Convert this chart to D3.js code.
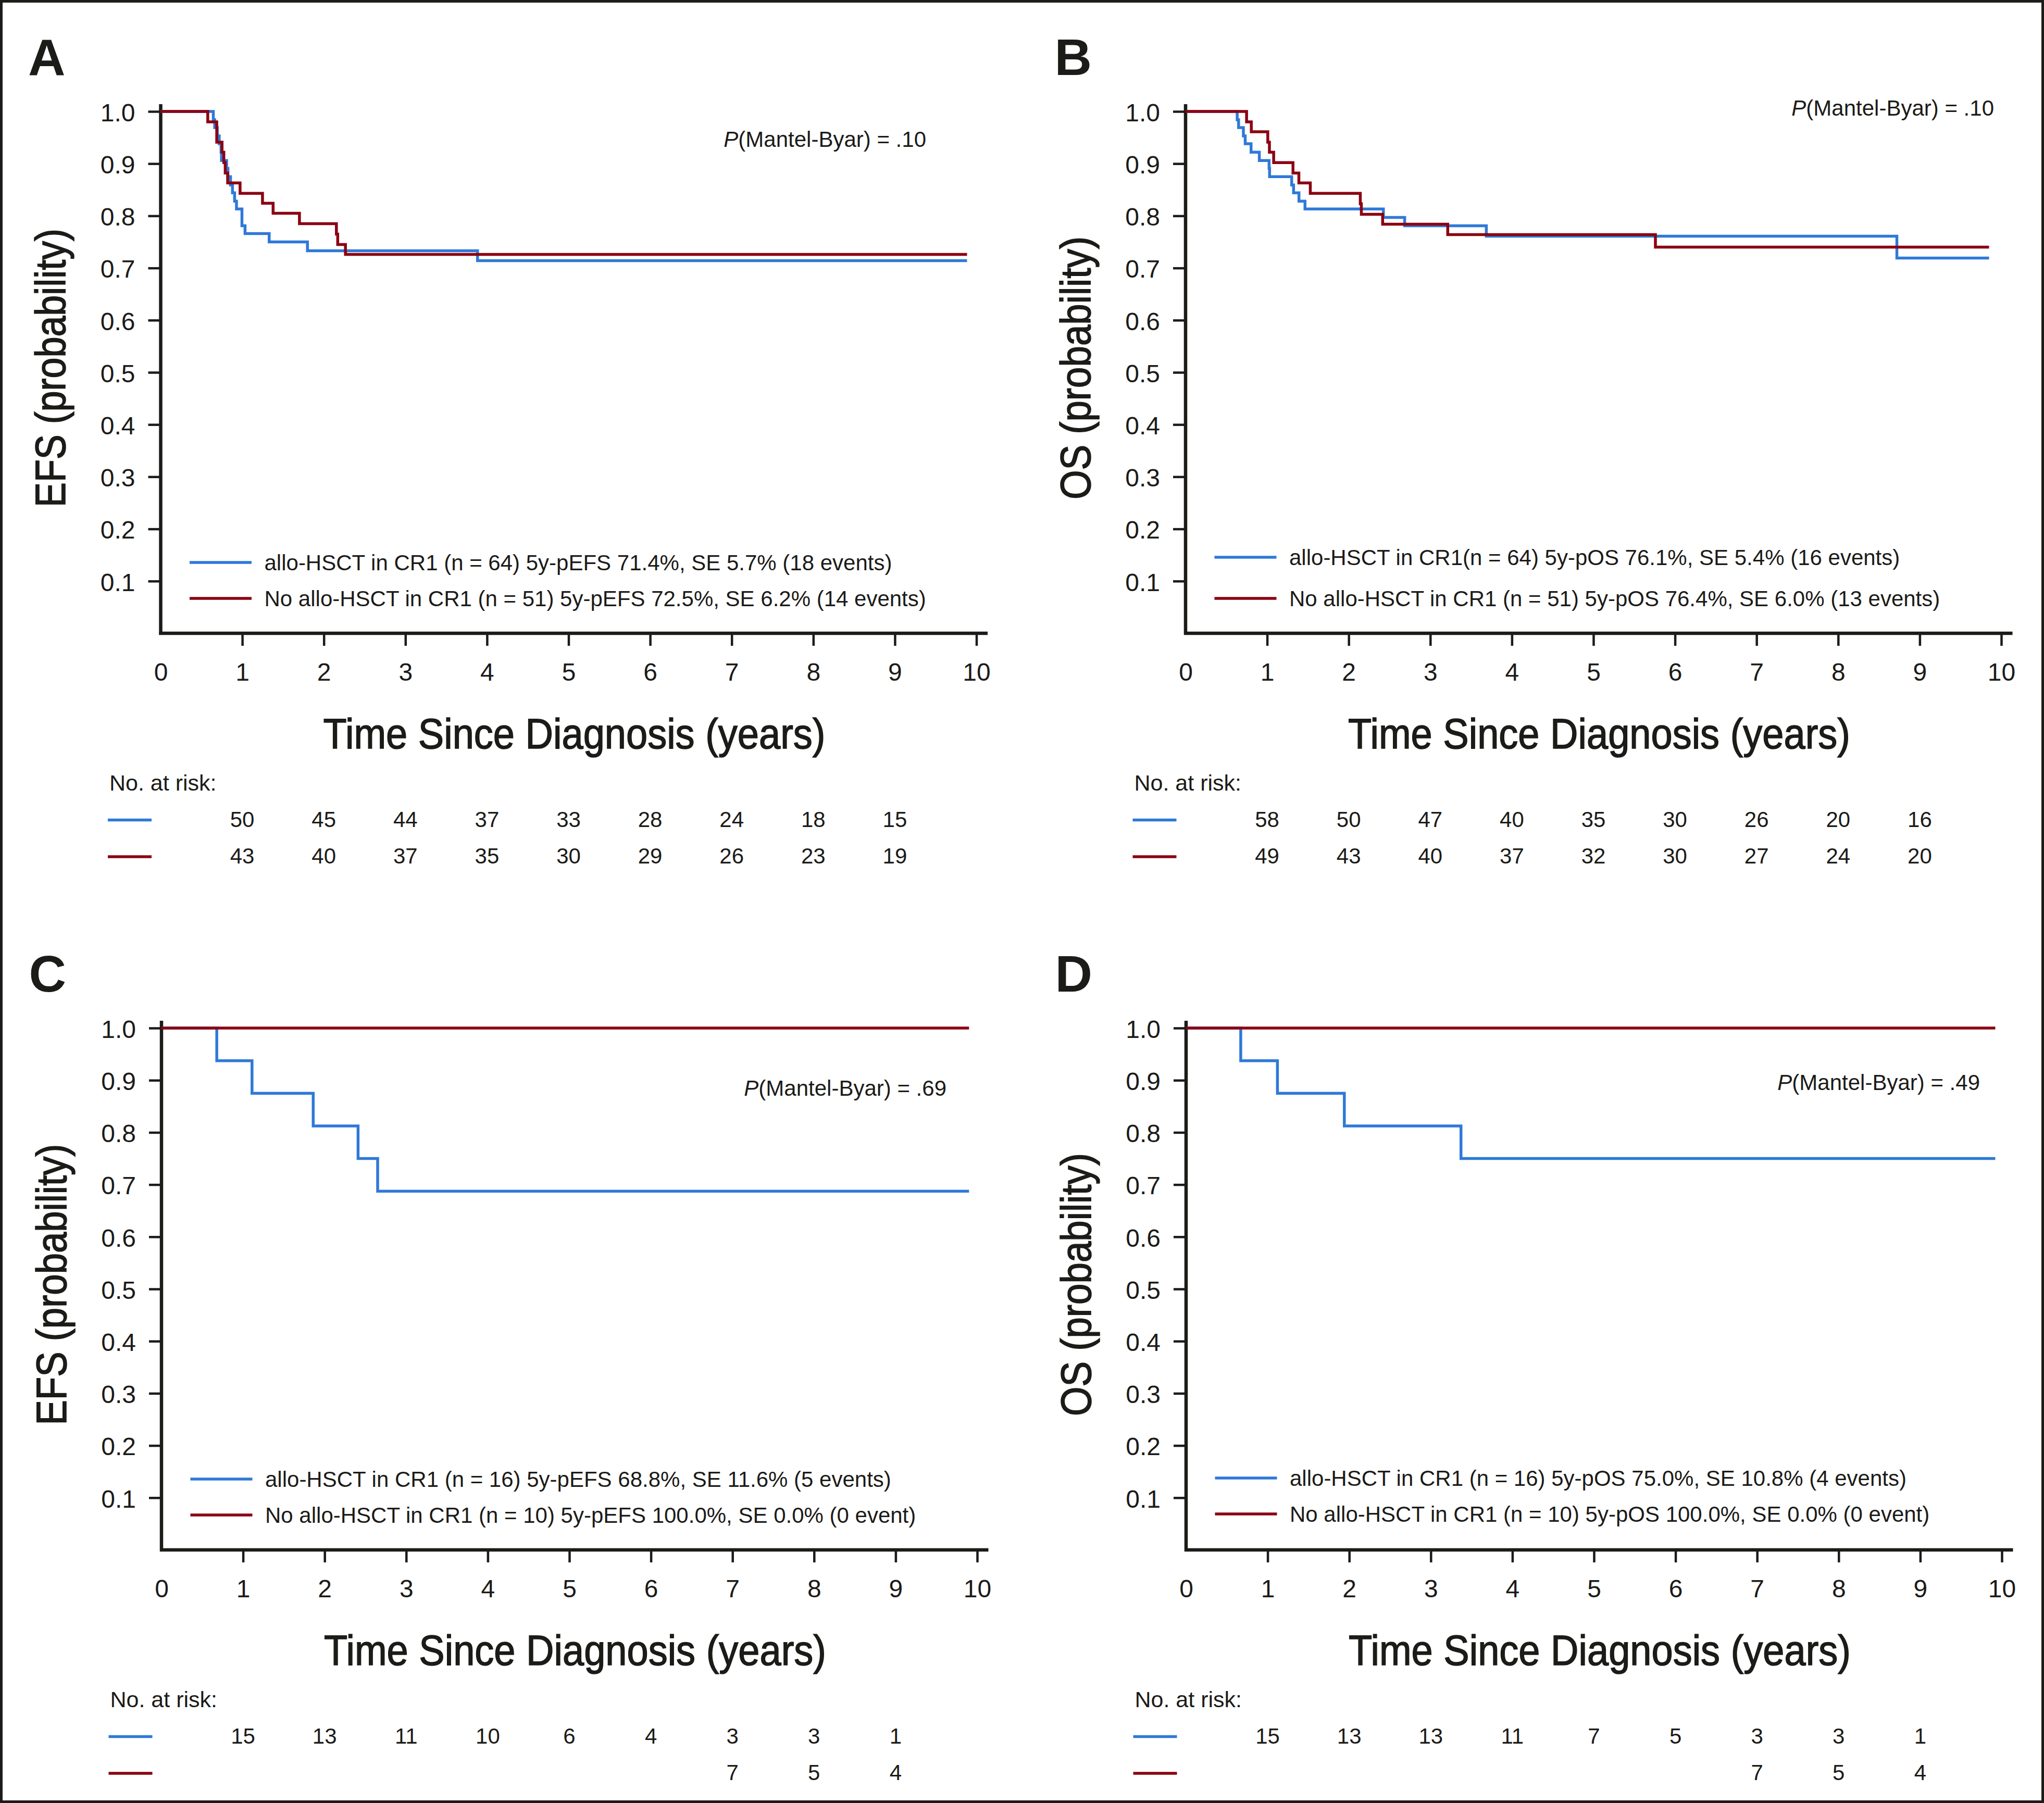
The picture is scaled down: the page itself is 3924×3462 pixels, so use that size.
<!DOCTYPE html>
<html>
<head>
<meta charset="utf-8">
<script src="https://cdn.jsdelivr.net/npm/d3@7"></script>
<style>
  html, body { margin: 0; padding: 0; background: #ffffff; }
  svg { display: block; }
</style>
</head>
<body>
<svg id="chart" width="3924" height="3462"></svg>
<script>
// ---------------- DATA ----------------
const yearTicks = [0, 1, 2, 3, 4, 5, 6, 7, 8, 9, 10];
const probTicks = [0.1, 0.2, 0.3, 0.4, 0.5, 0.6, 0.7, 0.8, 0.9, 1.0];
const riskYears = [1, 2, 3, 4, 5, 6, 7, 8, 9];
const seriesNames = ["allo-HSCT in CR1", "No allo-HSCT in CR1"];

// Panel A – EFS, cohort 1
const aAlloTimes = [0.645, 0.662, 0.694, 0.717, 0.740, 0.745, 0.808, 0.824, 0.856, 0.880, 0.906, 0.929, 0.996, 1.034, 1.330, 1.799, 3.884];
const aAlloSurv  = [0.984, 0.969, 0.953, 0.938, 0.922, 0.906, 0.891, 0.875, 0.859, 0.844, 0.828, 0.813, 0.781, 0.766, 0.750, 0.733, 0.714];
const aNoTimes   = [0.577, 0.687, 0.752, 0.774, 0.791, 0.821, 0.973, 1.248, 1.378, 1.701, 2.154, 2.170, 2.265];
const aNoSurv    = [0.980, 0.941, 0.922, 0.902, 0.882, 0.863, 0.843, 0.824, 0.805, 0.785, 0.765, 0.745, 0.726];
const aEnd = 9.885;
const aRiskAllo = [50, 45, 44, 37, 33, 28, 24, 18, 15];
const aRiskNo   = [43, 40, 37, 35, 30, 29, 26, 23, 19];

// Panel B – OS, cohort 1
const bAlloTimes = [0.633, 0.650, 0.709, 0.731, 0.803, 0.904, 1.024, 1.030, 1.301, 1.324, 1.390, 1.464, 2.425, 2.686, 3.687, 8.720];
const bAlloSurv  = [0.984, 0.969, 0.953, 0.938, 0.922, 0.906, 0.891, 0.875, 0.859, 0.844, 0.828, 0.813, 0.797, 0.781, 0.761, 0.719];
const bNoTimes   = [0.748, 0.806, 1.008, 1.028, 1.080, 1.317, 1.389, 1.529, 2.142, 2.155, 2.416, 3.214, 5.760];
const bNoSurv    = [0.980, 0.961, 0.941, 0.922, 0.902, 0.882, 0.863, 0.843, 0.823, 0.803, 0.784, 0.764, 0.740];
const bEnd = 9.85;
const bRiskAllo = [58, 50, 47, 40, 35, 30, 26, 20, 16];
const bRiskNo   = [49, 43, 40, 37, 32, 30, 27, 24, 20];

// Panel C – EFS, cohort 2
const cAlloTimes = [0.678, 1.110, 1.860, 2.410, 2.650];
const cAlloSurv  = [0.9375, 0.875, 0.8125, 0.750, 0.6875];
const cNoTimes   = [];
const cNoSurv    = [];
const cEnd = 9.9;
const cRiskAllo = [15, 13, 11, 10, 6, 4, 3, 3, 1];
const cRiskNo   = [null, null, null, null, null, null, 7, 5, 4];

// Panel D – OS, cohort 2
const dAlloTimes = [0.670, 1.120, 1.940, 3.370];
const dAlloSurv  = [0.9375, 0.875, 0.8125, 0.750];
const dNoTimes   = [];
const dNoSurv    = [];
const dEnd = 9.92;
const dRiskAllo = [15, 13, 13, 11, 7, 5, 3, 3, 1];
const dRiskNo   = [null, null, null, null, null, null, 7, 5, 4];

const legendA = ["allo-HSCT in CR1 (n = 64) 5y-pEFS 71.4%, SE 5.7% (18 events)",
                 "No allo-HSCT in CR1 (n = 51) 5y-pEFS 72.5%, SE 6.2% (14 events)"];
const legendB = ["allo-HSCT in CR1(n = 64) 5y-pOS 76.1%, SE 5.4% (16 events)",
                 "No allo-HSCT in CR1 (n = 51) 5y-pOS 76.4%, SE 6.0% (13 events)"];
const legendC = ["allo-HSCT in CR1 (n = 16) 5y-pEFS 68.8%, SE 11.6% (5 events)",
                 "No allo-HSCT in CR1 (n = 10) 5y-pEFS 100.0%, SE 0.0% (0 event)"];
const legendD = ["allo-HSCT in CR1 (n = 16) 5y-pOS 75.0%, SE 10.8% (4 events)",
                 "No allo-HSCT in CR1 (n = 10) 5y-pOS 100.0%, SE 0.0% (0 event)"];

const pValues = [".10", ".10", ".69", ".49"];
const panelLetters = ["A", "B", "C", "D"];
const yTitles = ["EFS (probability)", "OS (probability)", "EFS (probability)", "OS (probability)"];
const xTitle = "Time Since Diagnosis (years)";
const riskLabel = "No. at risk:";

// ---------------- STYLE / LAYOUT ----------------
const FONT = '"Liberation Sans", Arial, Helvetica, sans-serif';
const BLUE = "#2f79d8";
const RED = "#8b0012";
const INK = "#1b1b18";

const panels = [
  { dx: 0,      dy: 0,    letterX: 54, alloT: aAlloTimes, alloS: aAlloSurv, noT: aNoTimes, noS: aNoSurv, end: aEnd,
    riskAllo: aRiskAllo, riskNo: aRiskNo, legend: legendA, legY: [-136, -67], pX: 1469.5, pY: -934, yLen: 535 },
  { dx: 1967.5, dy: 0,    letterX: 57, alloT: bAlloTimes, alloS: bAlloSurv, noT: bNoTimes, noS: bNoSurv, end: bEnd,
    riskAllo: bRiskAllo, riskNo: bRiskNo, legend: legendB, legY: [-146, -67], pX: 1552, pY: -994, yLen: 505 },
  { dx: 1.5,    dy: 1760, letterX: 54, alloT: cAlloTimes, alloS: cAlloSurv, noT: cNoTimes, noS: cNoSurv, end: cEnd,
    riskAllo: cRiskAllo, riskNo: cRiskNo, legend: legendC, legY: [-136, -67], pX: 1507, pY: -872, yLen: 540 },
  { dx: 1968.5, dy: 1760, letterX: 57, alloT: dAlloTimes, alloS: dAlloSurv, noT: dNoTimes, noS: dNoSurv, end: dEnd,
    riskAllo: dRiskAllo, riskNo: dRiskNo, legend: legendD, legY: [-138, -69], pX: 1524, pY: -883, yLen: 505 }
];

const svg = d3.select("#chart");
svg.append("rect").attr("width", 3924).attr("height", 3462).attr("fill", "#fff");
svg.append("rect")
  .attr("x", 2.5).attr("y", 2.5).attr("width", 3919).attr("height", 3457)
  .attr("fill", "none").attr("stroke", INK).attr("stroke-width", 5);

function stepPoints(times, surv, end) {
  const pts = [[0, 1]];
  times.forEach((t, i) => pts.push([t, surv[i]]));
  pts.push([end, surv.length ? surv[surv.length - 1] : 1]);
  return pts;
}

panels.forEach((p, pi) => {
  const g = svg.append("g").attr("transform", `translate(${p.dx},${p.dy})`);
  const x = d3.scaleLinear().domain([0, 10]).range([308.5, 1874.5]);
  const y = d3.scaleLinear().domain([0, 1]).range([1216, 214]);
  const x0 = x(0), y0 = y(0);

  // panel letter
  g.append("text").attr("x", p.letterX).attr("y", 144)
    .attr("font-family", FONT).attr("font-weight", "bold").attr("font-size", 99)
    .attr("fill", INK).text(panelLetters[pi]);

  // y axis
  const ya = d3.axisLeft(y).tickValues(probTicks).tickSize(24).tickPadding(25)
    .tickFormat(d3.format(".1f"));
  const yg = g.append("g").attr("transform", `translate(${x0},0)`).call(ya);
  yg.attr("font-family", FONT).attr("font-size", 48);
  yg.select(".domain").remove();
  yg.selectAll(".tick line").attr("stroke", INK).attr("stroke-width", 4.5);
  yg.selectAll(".tick text").attr("fill", INK).attr("dy", "0.38em");

  // x axis
  const xa = d3.axisBottom(x).tickValues(yearTicks).tickSize(24).tickPadding(33)
    .tickFormat(d3.format("d"));
  const xg = g.append("g").attr("transform", `translate(0,${y0})`).call(xa);
  xg.attr("font-family", FONT).attr("font-size", 48);
  xg.select(".domain").remove();
  xg.selectAll(".tick line").attr("stroke", INK).attr("stroke-width", 4.5)
    .attr("display", d => d === 0 ? "none" : null);
  xg.selectAll(".tick text").attr("fill", INK);

  // axis lines
  g.append("line").attr("x1", x0).attr("x2", x0).attr("y1", y(1) - 14).attr("y2", y0 + 3)
    .attr("stroke", INK).attr("stroke-width", 6.5);
  g.append("line").attr("x1", x0 - 3).attr("x2", x(10) + 21.5).attr("y1", y0).attr("y2", y0)
    .attr("stroke", INK).attr("stroke-width", 6.5);

  // curves
  const line = d3.line().x(d => x(d[0])).y(d => y(d[1])).curve(d3.curveStepAfter);
  g.append("path").datum(stepPoints(p.alloT, p.alloS, p.end))
    .attr("d", line).attr("fill", "none").attr("stroke", BLUE).attr("stroke-width", 5.5)
    .attr("stroke-linejoin", "miter");
  g.append("path").datum(stepPoints(p.noT, p.noS, p.end))
    .attr("d", line).attr("fill", "none").attr("stroke", RED).attr("stroke-width", 5.5)
    .attr("stroke-linejoin", "miter");

  // P value
  const pt = g.append("text").attr("x", x0 + p.pX).attr("y", y0 + p.pY)
    .attr("text-anchor", "end").attr("font-family", FONT).attr("font-size", 42).attr("fill", INK);
  pt.append("tspan").attr("font-style", "italic").text("P");
  pt.append("tspan").text("(Mantel-Byar) = " + pValues[pi]);

  // legend
  [BLUE, RED].forEach((col, k) => {
    const ly = y0 + p.legY[k];
    g.append("line").attr("x1", x0 + 55.5).attr("x2", x0 + 174.5).attr("y1", ly).attr("y2", ly)
      .attr("stroke", col).attr("stroke-width", 5.5);
    g.append("text").attr("x", x0 + 199).attr("y", ly + 14.5)
      .attr("font-family", FONT).attr("font-size", 42).attr("fill", INK).text(p.legend[k]);
  });

  // axis titles
  g.append("text").attr("x", x0 + 794).attr("y", y0 + 221)
    .attr("text-anchor", "middle").attr("font-family", FONT).attr("font-size", 82)
    .attr("textLength", 964).attr("lengthAdjust", "spacingAndGlyphs")
    .attr("fill", INK).attr("stroke", INK).attr("stroke-width", 1.6).text(xTitle);
  g.append("text")
    .attr("transform", `translate(${x0 - 183.5},${y0 - 509.5}) rotate(-90)`)
    .attr("text-anchor", "middle").attr("font-family", FONT).attr("font-size", 82)
    .attr("textLength", p.yLen).attr("lengthAdjust", "spacingAndGlyphs")
    .attr("fill", INK).attr("stroke", INK).attr("stroke-width", 1.6).text(yTitles[pi]);

  // risk table
  g.append("text").attr("x", x0 - 98.5).attr("y", y0 + 302)
    .attr("font-family", FONT).attr("font-size", 43).attr("fill", INK).text(riskLabel);
  [[BLUE, p.riskAllo, 358.5, 372], [RED, p.riskNo, 429, 442]].forEach(([col, vals, ly, ty]) => {
    g.append("line").attr("x1", x0 - 101.5).attr("x2", x0 - 17.5)
      .attr("y1", y0 + ly).attr("y2", y0 + ly)
      .attr("stroke", col).attr("stroke-width", 5.5);
    g.selectAll(null).data(riskYears.map((t, i) => ({ t, v: vals[i] })).filter(d => d.v != null))
      .enter().append("text")
      .attr("x", d => x(d.t)).attr("y", y0 + ty)
      .attr("text-anchor", "middle").attr("font-family", FONT).attr("font-size", 42)
      .attr("fill", INK).text(d => d.v);
  });
});
</script>
</body>
</html>
